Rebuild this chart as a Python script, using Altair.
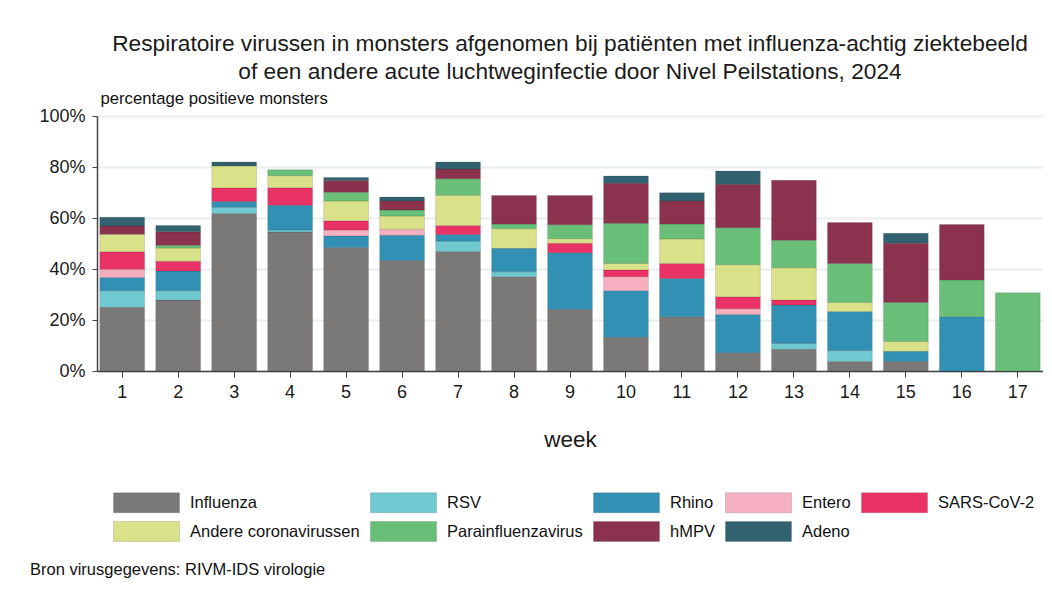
import altair as alt
import pandas as pd

weeks = [str(i) for i in range(1, 18)]
viruses = ["Influenza", "RSV", "Rhino", "Entero", "SARS-CoV-2",
           "Andere coronavirussen", "Parainfluenzavirus", "hMPV", "Adeno"]
colors = ["#7b7977", "#70c9d1", "#3290b5", "#f5afc0", "#e93265",
          "#d9e288", "#6abf78", "#8b334e", "#32626f"]

influenza = [25.0, 27.8, 61.8, 54.5, 48.4, 43.3, 46.9, 37.0, 24.2, 13.2, 21.3, 7.2, 8.5, 3.7, 3.7, 0, 0]
rsv = [6.5, 3.7, 2.4, 0.8, 0, 0, 4.0, 1.9, 0, 0, 0, 0, 2.3, 4.3, 0, 0, 0]
rhino = [5.2, 7.7, 2.3, 9.7, 4.5, 9.9, 2.6, 9.2, 22.2, 18.3, 15.0, 15.0, 15.1, 15.3, 4.0, 21.3, 0]
entero = [3.2, 0, 0, 0, 2.4, 2.4, 0, 0, 0, 5.5, 0, 2.2, 0, 0, 0, 0, 0]
sars = [6.9, 3.8, 5.3, 6.9, 3.6, 0, 3.6, 0, 3.7, 2.6, 5.9, 4.7, 1.9, 0, 0, 0, 0]
andere = [6.8, 5.2, 8.6, 4.7, 7.8, 5.2, 11.8, 7.7, 1.8, 2.6, 9.6, 12.6, 12.7, 3.6, 3.9, 0, 0]
para = [0, 1.1, 0, 2.3, 3.4, 2.3, 6.5, 1.8, 5.5, 15.7, 5.8, 14.5, 10.8, 15.3, 15.3, 14.4, 30.7]
hmpv = [3.3, 5.3, 0, 0, 4.6, 3.6, 3.8, 11.2, 11.4, 15.7, 9.1, 17.0, 23.5, 16.0, 23.2, 21.8, 0]
adeno = [3.4, 2.5, 1.6, 0, 1.2, 1.5, 2.8, 0, 0, 2.9, 3.2, 5.2, 0, 0, 3.9, 0, 0]

series = [influenza, rsv, rhino, entero, sars, andere, para, hmpv, adeno]

rows = []
for idx, (v, vals) in enumerate(zip(viruses, series)):
    for w, val in zip(weeks, vals):
        if val > 0:
            rows.append({"week": w, "virus": v, "pct": val / 100.0, "idx": idx})
df = pd.DataFrame(rows)

FONT = "Liberation Sans"

bars = alt.Chart(df).mark_bar(stroke="#000000", strokeOpacity=0.12, strokeWidth=1).encode(
    x=alt.X("week:N", sort=weeks,
            scale=alt.Scale(paddingInner=0.2, paddingOuter=0.05),
            axis=alt.Axis(title="week", labelAngle=0, labelFontSize=18, labelPadding=6,
                          tickSize=6, tickColor="#444", domainColor="#444", domainWidth=1.5,
                          titleFontSize=22.5, titleFontWeight="normal", titlePadding=27,
                          labelColor="#1a1a1a", titleColor="#1a1a1a", grid=False)),
    y=alt.Y("pct:Q", stack="zero", scale=alt.Scale(domain=[0, 1]),
            axis=alt.Axis(format="%", values=[0, 0.2, 0.4, 0.6, 0.8, 1.0],
                          title="percentage positieve monsters", titleAngle=0,
                          titleAlign="left", titleBaseline="bottom", titleX=3, titleY=-9,
                          titleFontSize=16.7, titleFontWeight="normal", titleColor="#111",
                          labelFontSize=18, labelPadding=7, labelColor="#1a1a1a",
                          tickSize=5, tickColor="#444", domainColor="#444", domainWidth=1.5,
                          gridColor="#e8eef1", gridWidth=2)),
    color=alt.Color("virus:N", scale=alt.Scale(domain=viruses, range=colors),
                    legend=alt.Legend(title=None, orient="none", legendX=39, legendY=376,
                                      direction="horizontal",
                                      columns=5, columnPadding=8, rowPadding=4,
                                      symbolType="M-3.3,-1H3.3V1H-3.3Z", symbolSize=400,
                                      symbolStrokeWidth=1, symbolStrokeColor="#00000022",
                                      labelFontSize=16.5, labelOffset=33, labelColor="#111",
                                      labelLimit=300)),
    order=alt.Order("idx:Q", sort="ascending"),
)

note = alt.Chart(pd.DataFrame({"t": ["Bron virusgegevens: RIVM-IDS virologie"]})).mark_text(
    align="left", baseline="middle", fontSize=16.5, font=FONT, color="#111"
).encode(x=alt.value(-67), y=alt.value(454), text="t:N")

chart = alt.layer(bars, note).properties(
    width=946, height=255,
    padding={"left": 89, "top": 108, "right": 0, "bottom": 215},
    autosize=alt.AutoSizeParams(type="none"),
    title=alt.Title(
        ["Respiratoire virussen in monsters afgenomen bij patiënten met influenza-achtig ziektebeeld",
         "of een andere acute luchtweginfectie door Nivel Peilstations, 2024"],
        fontSize=22.7, font=FONT, fontWeight="normal", color="#1a1a1a",
        anchor="middle", frame="group", lineHeight=28.5, offset=6),
).configure(font=FONT).configure_view(stroke=None)

chart.save("out.html", embed_options={"renderer": "svg", "actions": False})
